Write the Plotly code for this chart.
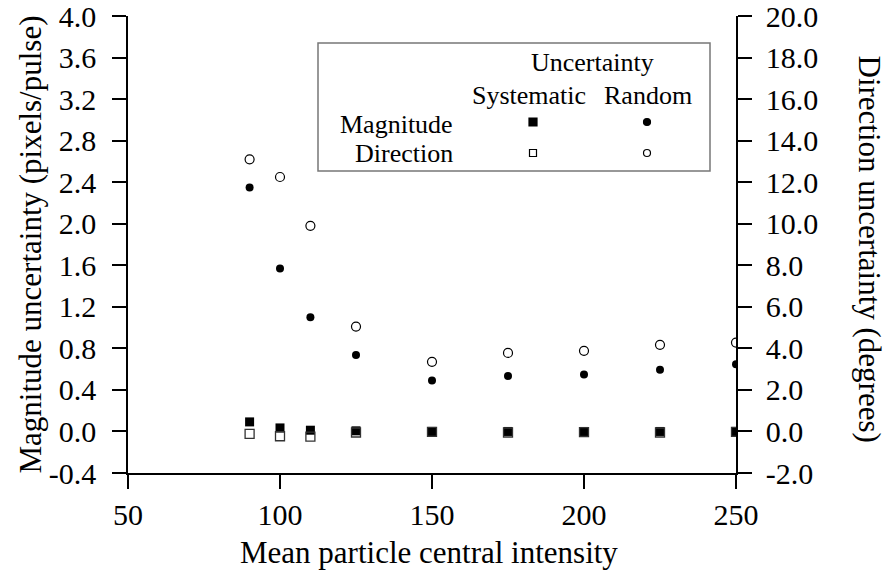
import plotly.graph_objects as go

intensity = [90, 100, 110, 125, 150, 175, 200, 225, 250]
mag_random = [2.35, 1.57, 1.10, 0.735, 0.49, 0.535, 0.548, 0.593, 0.648]
mag_systematic = [0.092, 0.034, 0.012, 0.006, 0.0, 0.0, 0.0, 0.0, 0.0]
dir_random = [13.1, 12.25, 9.9, 5.05, 3.35, 3.78, 3.88, 4.17, 4.28]
dir_systematic = [-0.12, -0.23, -0.25, -0.05, -0.02, -0.05, -0.03, -0.05, -0.02]

left_ticks = [-0.4, 0.0, 0.4, 0.8, 1.2, 1.6, 2.0, 2.4, 2.8, 3.2, 3.6, 4.0]
left_labels = ["-0.4", "0.0", "0.4", "0.8", "1.2", "1.6", "2.0", "2.4", "2.8", "3.2", "3.6", "4.0"]
right_ticks = [-2, 0, 2, 4, 6, 8, 10, 12, 14, 16, 18, 20]
right_labels = ["-2.0", "0.0", "2.0", "4.0", "6.0", "8.0", "10.0", "12.0", "14.0", "16.0", "18.0", "20.0"]
x_ticks = [50, 100, 150, 200, 250]

FONT = "Liberation Serif"

fig = go.Figure()
fig.add_trace(go.Scatter(x=intensity, y=dir_systematic, yaxis="y2", mode="markers",
                         marker=dict(symbol="square-open", size=9, color="#333",
                                     line=dict(width=1.3, color="#333"))))
fig.add_trace(go.Scatter(x=intensity, y=dir_random, yaxis="y2", mode="markers",
                         marker=dict(symbol="circle-open", size=9, color="black",
                                     line=dict(width=1.2, color="black"))))
fig.add_trace(go.Scatter(x=intensity, y=mag_systematic, mode="markers",
                         marker=dict(symbol="square", size=9, color="black")))
fig.add_trace(go.Scatter(x=intensity, y=mag_random, mode="markers",
                         marker=dict(symbol="circle", size=8, color="black")))

axis_common = dict(showgrid=False, zeroline=False, showline=True, linecolor="black",
                   linewidth=1.5, ticks="outside", ticklen=14, tickwidth=1.5,
                   tickcolor="black", ticklabeloverflow="allow", automargin=False,
                   tickfont=dict(family=FONT, size=30, color="black"))

fig.update_layout(
    width=890, height=573,
    margin=dict(l=128, r=154, t=16, b=100),
    paper_bgcolor="white", plot_bgcolor="white",
    showlegend=False,
    font=dict(family=FONT, color="black"),
    xaxis=dict(range=[50, 250], tickvals=x_ticks, ticklabelstandoff=0, **axis_common),
    yaxis=dict(range=[-0.4, 4.0001], tickvals=left_ticks, ticktext=left_labels,
               ticklabelstandoff=10, **axis_common),
    yaxis2=dict(range=[-2, 20.0005], tickvals=right_ticks, ticktext=right_labels,
                overlaying="y", side="right", ticklabelstandoff=8, **axis_common),
)

# axis titles
fig.add_annotation(text="Mean particle central intensity", xref="paper", yref="paper",
                   x=0.5, y=0, xshift=-3, yshift=-79, showarrow=False, yanchor="middle",
                   font=dict(family=FONT, size=31, color="black"))
fig.add_annotation(text="Magnitude uncertainty (pixels/pulse)", xref="paper", yref="paper",
                   x=0, y=0.5, xshift=-98, showarrow=False, textangle=-90,
                   xanchor="center", yanchor="middle",
                   font=dict(family=FONT, size=31, color="black"))
fig.add_annotation(text="Direction uncertainty (degrees)", xref="paper", yref="paper",
                   x=1, y=0.5, xshift=133, yshift=-4, showarrow=False, textangle=90,
                   xanchor="center", yanchor="middle",
                   font=dict(family=FONT, size=31, color="black"))

# custom legend box
def px_x(px):
    return (px - 128) / 608

def px_y(py):
    return (473 - py) / 457

fig.add_shape(type="rect", xref="paper", yref="paper",
              x0=px_x(318), x1=px_x(710), y0=px_y(171), y1=px_y(43),
              line=dict(color="#777", width=1.5), fillcolor="white", layer="below")

LF = dict(family=FONT, size=26, color="black")
fig.add_annotation(text="Uncertainty", xref="paper", yref="paper", x=px_x(592), y=px_y(62),
                   showarrow=False, xanchor="center", yanchor="middle", font=LF)
fig.add_annotation(text="Systematic", xref="paper", yref="paper", x=px_x(529), y=px_y(95),
                   showarrow=False, xanchor="center", yanchor="middle", font=LF)
fig.add_annotation(text="Random", xref="paper", yref="paper", x=px_x(648), y=px_y(95),
                   showarrow=False, xanchor="center", yanchor="middle", font=LF)
fig.add_annotation(text="Magnitude", xref="paper", yref="paper", x=px_x(455), y=px_y(124),
                   showarrow=False, xanchor="right", yanchor="middle", font=LF)
fig.add_annotation(text="Direction", xref="paper", yref="paper", x=px_x(455), y=px_y(153),
                   showarrow=False, xanchor="right", yanchor="middle", font=LF)

def marker_shape(kind, cx, cy, filled, size):
    h = size / 2
    fig.add_shape(type=kind, xref="paper", yref="paper", xsizemode="pixel", ysizemode="pixel",
                  xanchor=px_x(cx), yanchor=px_y(cy), x0=-h, x1=h, y0=-h, y1=h,
                  line=dict(color="black", width=1.2),
                  fillcolor="black" if filled else "white")

marker_shape("rect", 533, 122, True, 8)
marker_shape("circle", 647, 122, True, 7)
marker_shape("rect", 533, 153, False, 7)
marker_shape("circle", 647, 153, False, 7)

fig.write_html("out.html", config={"displayModeBar": False},
               post_script="document.body.style.margin='0';document.body.style.padding='0';")
